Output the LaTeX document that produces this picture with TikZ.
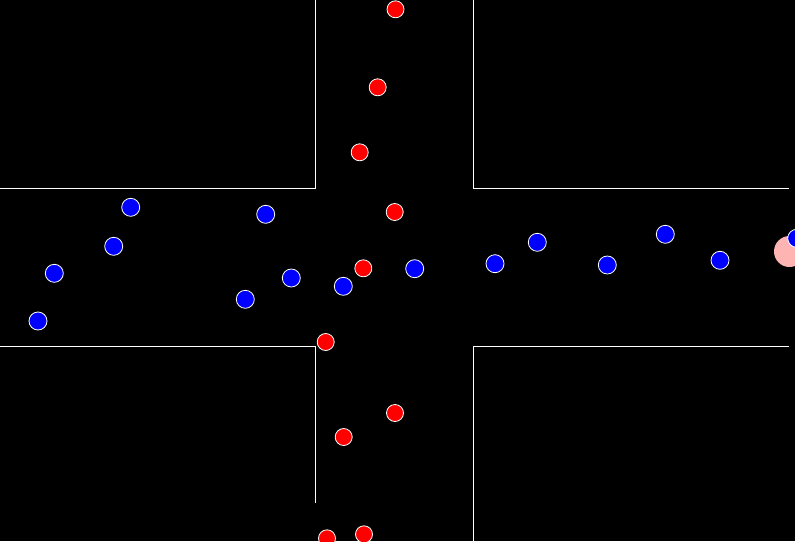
\documentclass[tikz,border=0pt]{standalone}
\definecolor{carred}{RGB}{255,0,0}
\definecolor{carblue}{RGB}{0,0,255}
\definecolor{hilite}{RGB}{255,180,180}
\tikzset{
  curb/.style={draw=white, line width=1pt},
  redcar/.style={circle, fill=carred, draw=white, line width=0.8pt, minimum size=17pt, inner sep=0pt},
  bluecar/.style={circle, fill=carblue, draw=white, line width=0.8pt, minimum size=18pt, inner sep=0pt},
  pinkmark/.style={circle, fill=hilite, minimum size=31pt, inner sep=0pt},
}
\begin{document}
\begin{tikzpicture}[x=1pt,y=-1pt]
\fill[black] (0,0) rectangle (795,541);
\useasboundingbox (0,0) rectangle (795,541);
\clip (0,0) rectangle (795,541);
% curbs
\draw[curb] (315,0) -- (315,188) -- (0,188);
\draw[curb] (473,0) -- (473,188) -- (789,188);
\draw[curb] (0,346) -- (315,346) -- (315,503);
\draw[curb] (789,346) -- (473,346) -- (473,541);
% highlight
\node[pinkmark] (p1) at (789.5,251.5) {};
% red cars
\node[redcar] (r1) at (395.5,9.3) {};
\node[redcar] (r2) at (377.7,87.3) {};
\node[redcar] (r3) at (359.7,152.3) {};
\node[redcar] (r4) at (394.7,212) {};
\node[redcar] (r5) at (363.3,268.3) {};
\node[redcar] (r6) at (325.7,342) {};
\node[redcar] (r7) at (395,413) {};
\node[redcar] (r8) at (343.7,437) {};
\node[redcar] (r9) at (327,538.3) {};
\node[redcar] (r10) at (364,534.3) {};
% blue cars
\node[bluecar] (b1) at (130.7,207.3) {};
\node[bluecar] (b2) at (113.7,246.3) {};
\node[bluecar] (b3) at (54.3,273.3) {};
\node[bluecar] (b4) at (38,321) {};
\node[bluecar] (b5) at (265.7,214.3) {};
\node[bluecar] (b6) at (291.3,278) {};
\node[bluecar] (b7) at (343.3,286.3) {};
\node[bluecar] (b8) at (245.3,299.3) {};
\node[bluecar] (b9) at (414.7,268.7) {};
\node[bluecar] (b10) at (495,263.7) {};
\node[bluecar] (b11) at (537.3,242.3) {};
\node[bluecar] (b12) at (607.3,265) {};
\node[bluecar] (b13) at (665.3,234.3) {};
\node[bluecar] (b14) at (720,260.3) {};
\node[bluecar] (b15) at (796.7,238.3) {};
\end{tikzpicture}
\end{document}
